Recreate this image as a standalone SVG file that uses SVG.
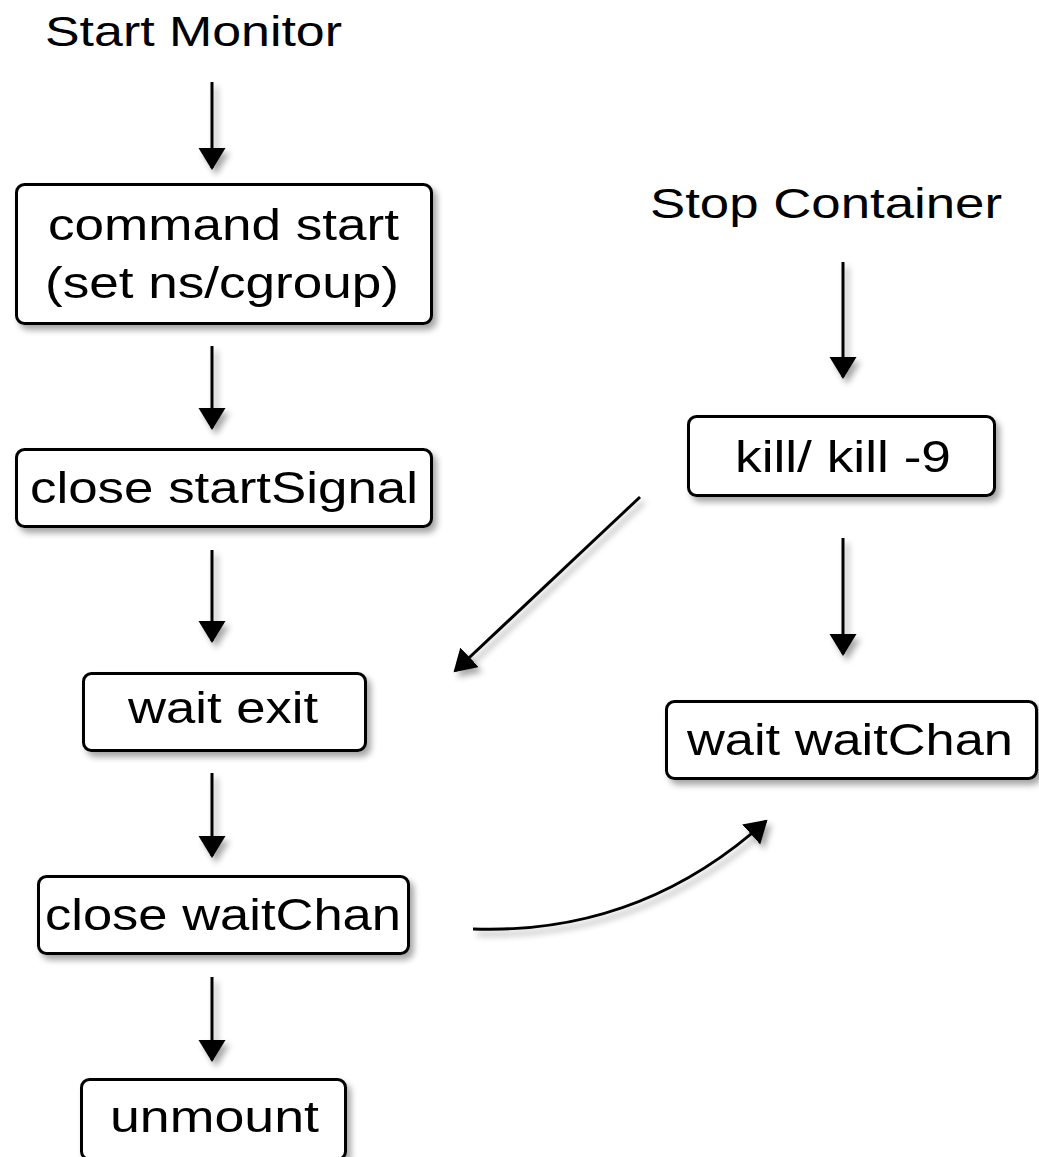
<svg xmlns="http://www.w3.org/2000/svg" width="1039" height="1157" viewBox="0 0 1039 1157">
  <defs>
    <filter id="shadow" x="-20%" y="-20%" width="140%" height="160%">
      <feDropShadow dx="4" dy="5" stdDeviation="3" flood-color="#000" flood-opacity="0.35"/>
    </filter>
    <marker id="arrow" markerUnits="userSpaceOnUse" markerWidth="30" markerHeight="30" refX="20" refY="13.5" orient="auto">
      <path d="M0,0 L22,13.5 L0,27 Z" fill="#000"/>
    </marker>
    <style>
      .box { fill: #fff; stroke: #000; stroke-width: 3; }
      .lbl { font-family: "Liberation Sans", Arial, sans-serif; font-size: 45px; fill: #000; }
      .title { font-family: "Liberation Sans", Arial, sans-serif; font-size: 43px; fill: #000; }
      .edge { fill: none; stroke: #000; stroke-width: 3; marker-end: url(#arrow); }
    </style>
  </defs>
  <rect width="1039" height="1157" fill="#fff"/>

  <!-- headings -->
  <text class="title" x="45" y="46" textLength="297" lengthAdjust="spacingAndGlyphs">Start Monitor</text>
  <text class="title" x="650" y="218" textLength="352" lengthAdjust="spacingAndGlyphs">Stop Container</text>

  <!-- connectors -->
  <g id="connectors" filter="url(#shadow)">
    <path class="edge" d="M212,82 L212,168"/>
    <path class="edge" d="M212,346 L212,428"/>
    <path class="edge" d="M212,550 L212,641"/>
    <path class="edge" d="M212,773 L212,856"/>
    <path class="edge" d="M212,977 L212,1060"/>
    <path class="edge" d="M843,262 L843,377"/>
    <path class="edge" d="M843,538 L843,654"/>
    <path class="edge" d="M640,497 L455,671"/>
    <path class="edge" d="M473,929 Q640,935 766,821"/>
  </g>

  <!-- left column -->
  <g id="command-start" filter="url(#shadow)">
    <rect class="box" x="16.5" y="184.5" width="415" height="139" rx="8"/>
    <text class="lbl" x="48" y="240" textLength="351" lengthAdjust="spacingAndGlyphs">command start</text>
    <text class="lbl" x="45" y="298" textLength="354" lengthAdjust="spacingAndGlyphs">(set ns/cgroup)</text>
  </g>
  <g id="close-startSignal" filter="url(#shadow)">
    <rect class="box" x="16.5" y="449.5" width="415" height="77" rx="8"/>
    <text class="lbl" x="30" y="503" textLength="388" lengthAdjust="spacingAndGlyphs">close startSignal</text>
  </g>
  <g id="wait-exit" filter="url(#shadow)">
    <rect class="box" x="83.5" y="673.5" width="282" height="77" rx="8"/>
    <text class="lbl" x="128" y="723" textLength="190" lengthAdjust="spacingAndGlyphs">wait exit</text>
  </g>
  <g id="close-waitChan" filter="url(#shadow)">
    <rect class="box" x="38.5" y="876.5" width="370" height="77" rx="8"/>
    <text class="lbl" x="45" y="930" textLength="356" lengthAdjust="spacingAndGlyphs">close waitChan</text>
  </g>
  <g id="unmount" filter="url(#shadow)">
    <rect class="box" x="81.5" y="1079.5" width="264" height="80" rx="8"/>
    <text class="lbl" x="110" y="1132" textLength="209" lengthAdjust="spacingAndGlyphs">unmount</text>
  </g>

  <!-- right column -->
  <g id="kill" filter="url(#shadow)">
    <rect class="box" x="688.5" y="416.5" width="306" height="79" rx="8"/>
    <text class="lbl" x="735" y="472" textLength="216" lengthAdjust="spacingAndGlyphs">kill/ kill -9</text>
  </g>
  <g id="wait-waitChan" filter="url(#shadow)">
    <rect class="box" x="666.5" y="701.5" width="370" height="77" rx="8"/>
    <text class="lbl" x="687" y="755" textLength="326" lengthAdjust="spacingAndGlyphs">wait waitChan</text>
  </g>
</svg>
